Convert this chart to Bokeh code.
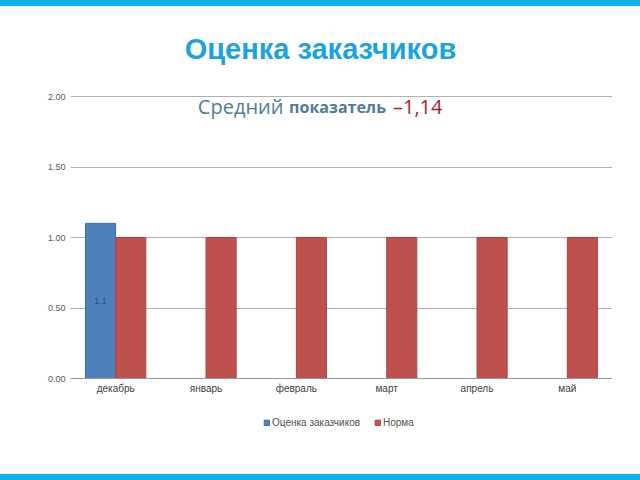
import math
from bokeh.plotting import figure
from bokeh.models import (ColumnDataSource, FactorRange, Range1d, Legend, LegendItem,
                          LabelSet, Label, NumeralTickFormatter, FixedTicker)
from bokeh.transform import dodge
from bokeh.embed import file_html
from bokeh.resources import INLINE
from bokeh.core.properties import value

# ---- data ----
months = ["декабрь", "январь", "февраль", "март", "апрель", "май"]
ocenka = [1.1, float("nan"), float("nan"), float("nan"), float("nan"), float("nan")]
norma = [1.0, 1.0, 1.0, 1.0, 1.0, 1.0]
series_names = ["Оценка заказчиков", "Норма"]
y_ticks = [0.0, 0.5, 1.0, 1.5, 2.0]
title_text = "Оценка заказчиков"
subtitle_parts = ["Средний", "показатель", "–1,14"]

BAR_BLUE = "#4F81BD"
BAR_RED = "#C0504D"
ACCENT = "#0CB2E8"
FONT = "Liberation Sans"

W, H = 640, 480
BL, BR, BB = 70, 28, 30          # frame spans canvas y 0 .. H-BB
FH = H - BB
Y0_PX, Y2_PX = 378, 96           # canvas rows of value 0 and value 2
PX_PER_UNIT = (Y0_PX - Y2_PX) / 2.0
y_start = -(FH - Y0_PX) / PX_PER_UNIT
y_end = 2.0 + Y2_PX / PX_PER_UNIT

src = ColumnDataSource(dict(
    month=months,
    ocenka=ocenka,
    norma=norma,
    lab_y=[v / 2 if not math.isnan(v) else 0 for v in ocenka],
    lab=[f"{v:.1f}" if not math.isnan(v) else "" for v in ocenka],
))

p = figure(x_range=FactorRange(*months), y_range=Range1d(y_start, y_end),
           width=W, height=H, output_backend="svg", toolbar_location=None,
           min_border_left=BL, min_border_right=BR, min_border_top=0,
           min_border_bottom=BB)
p.outline_line_color = None
p.border_fill_alpha = 0
p.background_fill_alpha = 0
p.styles = {"background": (f"linear-gradient(to bottom, {ACCENT} 0px, {ACCENT} 6px, "
                           f"#ffffff 6px, #ffffff 474px, {ACCENT} 474px, {ACCENT} 480px)")}

r1 = p.vbar(x=dodge("month", -0.167, range=p.x_range), top="ocenka", bottom=0,
            width=0.333, source=src, fill_color=BAR_BLUE, line_color="#3D6A9E",
            line_width=1)
r2 = p.vbar(x=dodge("month", 0.167, range=p.x_range), top="norma", bottom=0,
            width=0.333, source=src, fill_color=BAR_RED, line_color="#A84340",
            line_width=1)

p.add_layout(LabelSet(x=dodge("month", -0.167, range=p.x_range), y="lab_y", text="lab",
                      source=src, text_align="center", text_baseline="middle",
                      text_font=value(FONT), text_font_size=value("9px"),
                      text_color=value("#2E4E78")))

p.yaxis.ticker = FixedTicker(ticks=y_ticks)
p.yaxis.formatter = NumeralTickFormatter(format="0.00")
p.yaxis.axis_line_color = None
p.yaxis.major_tick_line_color = None
p.yaxis.major_tick_out = 0
p.yaxis.minor_tick_line_color = None
p.yaxis.major_label_text_font = FONT
p.yaxis.major_label_text_font_size = "9px"
p.yaxis.major_label_text_color = "#595959"
p.yaxis.major_label_standoff = 5

p.xaxis.fixed_location = 0
p.xaxis.axis_line_color = "#9A9A9A"
p.xaxis.major_tick_line_color = None
p.xaxis.major_tick_out = 0
p.xaxis.minor_tick_line_color = None
p.xaxis.major_label_text_font = FONT
p.xaxis.major_label_text_font_size = "10px"
p.xaxis.major_label_text_color = "#404040"
p.xaxis.major_label_standoff = 4

p.xgrid.visible = False
p.ygrid.grid_line_color = "#B0B0B0"
p.ygrid.grid_line_width = 1

# title (screen units, measured from the frame's bottom-left corner)
p.add_layout(Label(x=W / 2 - BL, y=FH - 48, x_units="screen", y_units="screen",
                   text=title_text, text_align="center", text_baseline="middle",
                   text_font=FONT, text_font_style="bold", text_font_size="29px",
                   text_color="#1AA3DF"))

# subtitle (three styled parts)
sub_y = 1.93
p.add_layout(Label(x=1.41, y=sub_y, text=subtitle_parts[0], text_align="left",
                   text_baseline="middle", text_font="Open Sans",
                   text_font_size="20px", text_color="#4F7C98"))
p.add_layout(Label(x=2.42, y=sub_y - 0.005, text=subtitle_parts[1], text_align="left",
                   text_baseline="middle", text_font="Open Sans",
                   text_font_style="bold", text_font_size="16px", text_color="#4F7C98"))
p.add_layout(Label(x=3.57, y=sub_y, text=subtitle_parts[2], text_align="left",
                   text_baseline="middle", text_font="Open Sans",
                   text_font_size="20px", text_color="#A4232A"))

legend = Legend(items=[LegendItem(label=series_names[0], renderers=[r1]),
                       LegendItem(label=series_names[1], renderers=[r2])],
                orientation="horizontal", location=(193, FH - 428),
                label_text_font=FONT, label_text_font_size="10px",
                label_text_color="#505050", glyph_width=7, glyph_height=7,
                label_standoff=2, spacing=14, padding=0, margin=0,
                border_line_color=None, background_fill_alpha=0,
                label_height=12)
p.add_layout(legend)

open("out.html", "w").write(file_html(p, INLINE))
